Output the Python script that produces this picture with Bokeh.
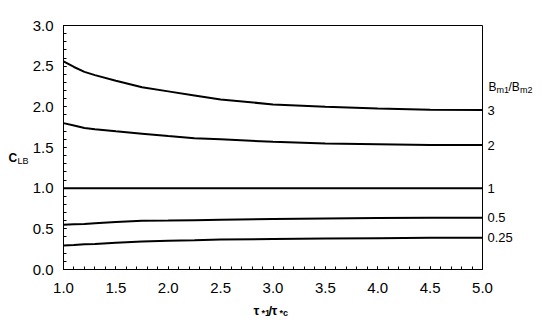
import math
from bokeh.plotting import figure
from bokeh.models import (Label, SingleIntervalTicker, Range1d, PrintfTickFormatter)
from bokeh.embed import file_html
from bokeh.resources import INLINE

# ---- data ----
tau_ratio = [1.0, 1.1, 1.2, 1.3, 1.5, 1.75, 2.0, 2.25, 2.5, 3.0, 3.5, 4.0, 4.5, 5.0]
c_lb_3    = [2.56, 2.49, 2.43, 2.39, 2.32, 2.24, 2.19, 2.14, 2.09, 2.03, 2.00, 1.98, 1.965, 1.96]
c_lb_2    = [1.80, 1.77, 1.74, 1.725, 1.70, 1.67, 1.64, 1.615, 1.60, 1.57, 1.55, 1.54, 1.53, 1.53]
c_lb_1    = [1.0, 1.0, 1.0, 1.0, 1.0, 1.0, 1.0, 1.0, 1.0, 1.0, 1.0, 1.0, 1.0, 1.0]
c_lb_05   = [0.55, 0.555, 0.56, 0.57, 0.585, 0.60, 0.603, 0.607, 0.612, 0.62, 0.627, 0.632, 0.635, 0.635]
c_lb_025  = [0.295, 0.30, 0.31, 0.315, 0.33, 0.345, 0.355, 0.36, 0.37, 0.375, 0.38, 0.385, 0.39, 0.39]
series = [c_lb_3, c_lb_2, c_lb_1, c_lb_05, c_lb_025]
ratio_labels = ["3", "2", "1", "0.5", "0.25"]

FONT = "Liberation Sans"

p = figure(frame_width=419, frame_height=244,
           x_range=Range1d(1, 5), y_range=Range1d(0, 3),
           output_backend="svg", toolbar_location=None,
           min_border_left=63, min_border_right=60,
           min_border_top=25, min_border_bottom=64)
p.xgrid.visible = False
p.ygrid.visible = False
p.outline_line_color = "black"
p.outline_line_width = 1
p.outline_line_alpha = 1.0
p.background_fill_color = "white"
p.border_fill_color = "white"

for ax in (p.xaxis[0], p.yaxis[0]):
    ax.ticker = SingleIntervalTicker(interval=0.5, num_minor_ticks=5)
    ax.formatter = PrintfTickFormatter(format="%.1f")
    ax.major_tick_in = 3
    ax.major_tick_out = 0
    ax.minor_tick_in = 3
    ax.minor_tick_out = 0
    ax.axis_line_color = "black"
    ax.major_tick_line_color = "black"
    ax.minor_tick_line_color = "black"
    ax.major_label_text_font = FONT
    ax.major_label_text_font_size = "15px"
    ax.major_label_text_color = "black"
    ax.axis_label = None
p.xaxis[0].major_label_standoff = 13
p.yaxis[0].major_label_standoff = 10

for ys in series:
    p.line(tau_ratio, ys, line_width=2, line_color="black")

# Annotations placed in a side panel are not clipped to the frame;
# their position still comes from data coordinates + pixel offsets.
for txt, ys in zip(ratio_labels, series):
    p.add_layout(Label(x=tau_ratio[-1], y=ys[-1], x_offset=5, text=txt,
                       text_font=FONT, text_font_size="13px",
                       text_baseline="middle", text_align="left",
                       text_color="black"), "right")

def lab(text, dx, dy, size, bold=False, side="right"):
    # offsets are measured from the frame's bottom-left corner (data point 1, 0)
    p.add_layout(Label(x=1.0, y=0.0, x_offset=dx, y_offset=dy, text=text,
                       text_font=FONT, text_font_size=size,
                       text_font_style="bold" if bold else "normal",
                       text_align="left", text_baseline="alphabetic",
                       text_color="black"), side)

# legend title  B_m1/B_m2
lab("B", 488 - 63, 269 - 86.5, "12px")
lab("m1", 496 - 63, 269 - 89, "9px")
lab("/B", 508 - 63, 269 - 86.5, "12px")
lab("m2", 519.5 - 63, 269 - 89, "9px")

# x-axis title  tau_*1 / tau_*c
lab("τ", 253 - 63, 269 - 309.5, "13px", bold=True)
lab("*1", 261 - 63, 269 - 312, "9px", bold=True)
lab("/", 268 - 63, 269 - 309.5, "13px", bold=True)
lab("τ", 271 - 63, 269 - 309.5, "13px", bold=True)
lab("*c", 279 - 63, 269 - 312, "9px", bold=True)

# y-axis title  C_LB
lab("C", 8 - 63, 269 - 157, "12px", bold=True, side="left")
lab("LB", 17 - 63, 269 - 160, "9px", side="left")

open("out.html", "w").write(file_html(p, INLINE))
